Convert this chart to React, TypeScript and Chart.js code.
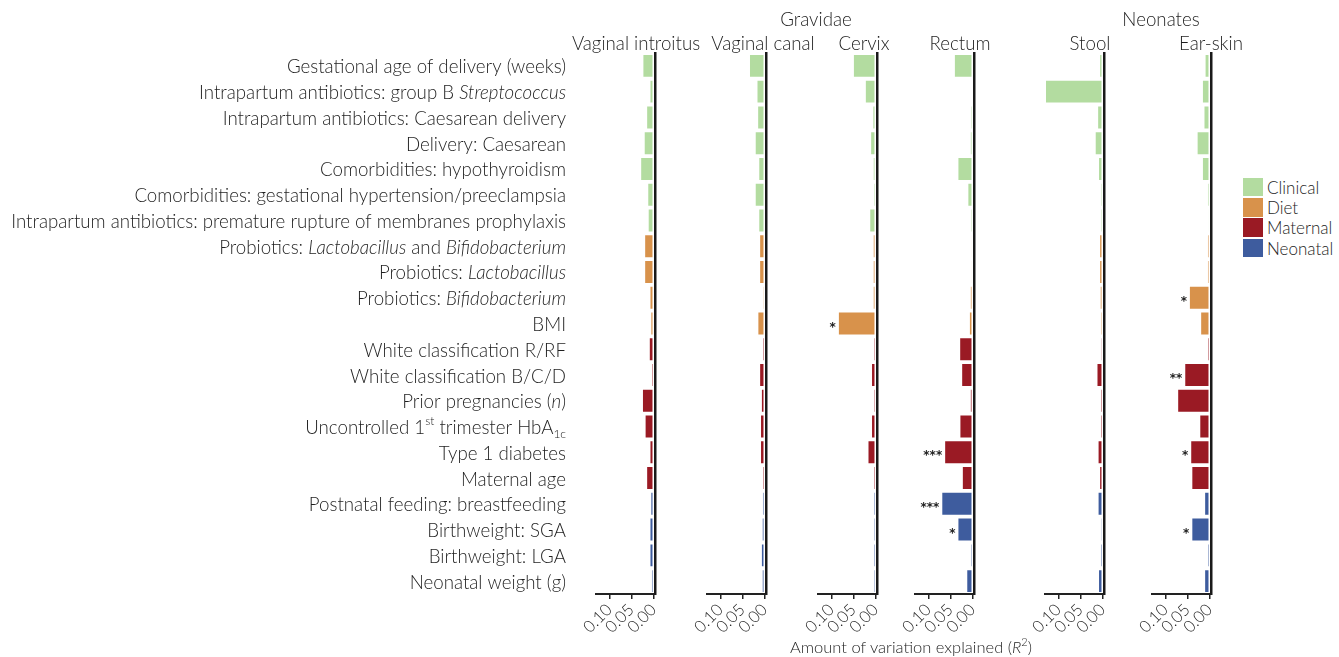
import React, { useEffect, useRef } from "react";
import { Chart, registerables } from "chart.js";

Chart.register(...registerables);

const FONT = "Lato, 'Open Sans', sans-serif";
const TEXT = "#1e1e1e";

// ---- data ----
const categories = [
  "Gestational age of delivery (weeks)",
  "Intrapartum antibiotics: group B _Streptococcus_",
  "Intrapartum antibiotics: Caesarean delivery",
  "Delivery: Caesarean",
  "Comorbidities: hypothyroidism",
  "Comorbidities: gestational hypertension/preeclampsia",
  "Intrapartum antibiotics: premature rupture of membranes prophylaxis",
  "Probiotics: _Lactobacillus_ and _Bifidobacterium_",
  "Probiotics: _Lactobacillus_",
  "Probiotics: _Bifidobacterium_",
  "BMI",
  "White classification R/RF",
  "White classification B/C/D",
  "Prior pregnancies (_n_)",
  "Uncontrolled 1^st^ trimester HbA~1c~",
  "Type 1 diabetes",
  "Maternal age",
  "Postnatal feeding: breastfeeding",
  "Birthweight: SGA",
  "Birthweight: LGA",
  "Neonatal weight (g)",
];

const categoryGroups = [
  "Clinical", "Clinical", "Clinical", "Clinical", "Clinical", "Clinical", "Clinical",
  "Diet", "Diet", "Diet", "Diet",
  "Maternal", "Maternal", "Maternal", "Maternal", "Maternal", "Maternal",
  "Neonatal", "Neonatal", "Neonatal", "Neonatal",
];

const groupNames = ["Clinical", "Diet", "Maternal", "Neonatal"];
const groupColors = ["#b3dca0", "#d8924b", "#9a1a24", "#3e5c9e"];

const xTickValues = [0, 0.05, 0.1];
const xMin = -0.0035;
const xMax = 0.13;

const vaginalIntroitus = [0.025, 0.009, 0.0165, 0.022, 0.030, 0.014, 0.013, 0.021, 0.021, 0.009, 0.007, 0.0105, 0.0045, 0.026, 0.020, 0.009, 0.0165, 0.007, 0.009, 0.009, 0.005];
const vaginalCanal = [0.035, 0.018, 0.0165, 0.022, 0.014, 0.022, 0.014, 0.012, 0.012, 0.003, 0.016, 0.0045, 0.012, 0.008, 0.010, 0.010, 0.0045, 0.005, 0.006, 0.008, 0.006];
const cervix = [0.051, 0.024, 0.007, 0.012, 0.006, 0.0045, 0.014, 0.006, 0.006, 0.006, 0.085, 0.004, 0.010, 0.004, 0.010, 0.018, 0.0045, 0.0045, 0.004, 0.0045, 0.004];
const rectum = [0.042, 0.0015, 0.004, 0.0055, 0.034, 0.0115, 0.004, 0.0023, 0.0023, 0.0055, 0.008, 0.030, 0.0255, 0.0055, 0.0295, 0.064, 0.024, 0.0705, 0.034, 0.004, 0.014];
const stool = [0.0075, 0.13, 0.012, 0.0175, 0.010, 0.004, 0.004, 0.0075, 0.0075, 0.006, 0.004, 0.003, 0.0135, 0.0045, 0.0045, 0.011, 0.0075, 0.011, 0.003, 0.0045, 0.010];
const earSkin = [0.011, 0.017, 0.0135, 0.029, 0.017, 0.005, 0.001, 0.005, 0.005, 0.0465, 0.021, 0.0045, 0.057, 0.073, 0.023, 0.0435, 0.041, 0.012, 0.041, 0.0045, 0.012];

const noSig: string[] = [];
const cervixSig: string[] = []; cervixSig[10] = "*";
const rectumSig: string[] = []; rectumSig[15] = "***"; rectumSig[17] = "***"; rectumSig[18] = "*";
const earSkinSig: string[] = []; earSkinSig[9] = "*"; earSkinSig[12] = "**"; earSkinSig[15] = "*"; earSkinSig[18] = "*";

const panelTitles = ["Vaginal introitus", "Vaginal canal", "Cervix", "Rectum", "Stool", "Ear-skin"];
const panelValues = [vaginalIntroitus, vaginalCanal, cervix, rectum, stool, earSkin];
const panelSig = [noSig, noSig, cervixSig, rectumSig, noSig, earSkinSig];

// ---- layout (not data) ----
const AREA_W = 59;
const AREA_TOP = 53;
const PAD_R = 10;
const X_AXIS_H = 63;
const H = 657;
const panelAreaLeft = [596, 707, 818, 915, 1045, 1152];
const panelTitleX = [636, 763, 864, 960, 1090, 1211];

type Seg = { text: string; style: "n" | "i" | "sup" | "sub" };
function parseRich(s: string): Seg[] {
  const parts = s.split(/(_[^_]+_|\^[^^]+\^|~[^~]+~)/).filter((p) => p.length);
  return parts.map((p) => {
    if (p.startsWith("_")) return { text: p.slice(1, -1), style: "i" };
    if (p.startsWith("^")) return { text: p.slice(1, -1), style: "sup" };
    if (p.startsWith("~")) return { text: p.slice(1, -1), style: "sub" };
    return { text: p, style: "n" };
  });
}
const plain = (s: string) => s.replace(/[_^~]/g, "");

const LABEL_SIZE = 18.7;
function segFont(st: Seg["style"]) {
  const size = st === "sup" || st === "sub" ? 12 : LABEL_SIZE;
  return `${st === "i" ? "italic " : ""}300 ${size}px ${FONT}`;
}

const labelPlugin = {
  id: "richLabels",
  afterDraw(chart: any) {
    const ctx = chart.ctx;
    const ys = chart.scales.y;
    const right = chart.chartArea.left - 30;
    ctx.save();
    ctx.fillStyle = TEXT;
    ctx.textBaseline = "middle";
    ctx.textAlign = "left";
    categories.forEach((lab, i) => {
      const y = ys.getPixelForValue(i) + 1.5;
      const segs = parseRich(lab);
      let total = 0;
      const widths = segs.map((sg) => {
        ctx.font = segFont(sg.style);
        const w = ctx.measureText(sg.text).width;
        total += w;
        return w;
      });
      let x = right - total;
      segs.forEach((sg, k) => {
        ctx.font = segFont(sg.style);
        const dy = sg.style === "sup" ? -7 : sg.style === "sub" ? 6 : 0;
        ctx.fillText(sg.text, x, y + dy);
        x += widths[k];
      });
    });
    ctx.restore();
  },
};

function makeSigPlugin(sig: string[]) {
  return {
    id: "sigStars",
    afterDatasetsDraw(chart: any) {
      const ctx = chart.ctx;
      ctx.save();
      ctx.fillStyle = "#222";
      ctx.font = `bold 12px 'DejaVu Sans', sans-serif`;
      ctx.textAlign = "right";
      ctx.textBaseline = "alphabetic";
      chart.data.datasets.forEach((_: any, di: number) => {
        const meta = chart.getDatasetMeta(di);
        meta.data.forEach((el: any, i: number) => {
          const v = chart.data.datasets[di].data[i];
          if (v == null || !sig[i]) return;
          ctx.fillText(sig[i], el.x - 2, el.y + 7);
        });
      });
      ctx.restore();
    },
  };
}

function Panel({ index }: { index: number }) {
  const ref = useRef<HTMLCanvasElement>(null);
  const showLabels = index === 0;
  const areaLeft = panelAreaLeft[index];
  const padLeft = showLabels ? areaLeft : 20;
  const canvasLeft = areaLeft - padLeft;
  const width = padLeft + AREA_W + PAD_R;

  useEffect(() => {
    const values = panelValues[index];
    const sig = panelSig[index];
    const chart = new Chart(ref.current as HTMLCanvasElement, {
      type: "bar",
      data: {
        labels: categories.map(plain),
        datasets: groupNames.map((g, gi) => ({
          label: g,
          data: values.map((v, i) => (categoryGroups[i] === g ? v : null)),
          backgroundColor: groupColors[gi],
          borderColor: "rgba(255,255,255,0.35)",
          borderWidth: 1,
          grouped: false,
          categoryPercentage: 1,
          barPercentage: 0.93,
        })) as any,
      },
      options: {
        indexAxis: "y",
        responsive: false,
        animation: false,
        layout: { padding: { left: padLeft, right: PAD_R, top: AREA_TOP, bottom: 0 } },
        plugins: { legend: { display: false }, tooltip: { enabled: false }, title: { display: false } },
        scales: {
          x: {
            type: "linear",
            reverse: true,
            min: xMin,
            max: xMax,
            afterBuildTicks: (s: any) => {
              s.ticks = xTickValues.map((v) => ({ value: v }));
            },
            afterFit: (s: any) => {
              s.height = X_AXIS_H;
              s.paddingLeft = 0;
              s.paddingRight = 0;
            },
            ticks: {
              autoSkip: false,
              minRotation: 45,
              maxRotation: 45,
              padding: 1,
              color: TEXT,
              font: { family: FONT, size: 16.5, weight: "300" as any },
              callback: (v: any) => Number(v).toFixed(2),
            },
            grid: { display: true, drawOnChartArea: false, drawTicks: true, tickLength: 5, color: "#222", lineWidth: 1.5 },
            border: { display: true, color: "#222", width: 2 },
          },
          y: {
            type: "category",
            position: "right",
            offset: true,
            afterFit: (s: any) => {
              s.width = 0;
              s.paddingTop = 0;
              s.paddingBottom = 0;
            },
            ticks: { display: false },
            grid: { display: false },
            border: { display: true, color: "#1a1a1a", width: 2.5 },
          },
        } as any,
      },
      plugins: showLabels ? [labelPlugin, makeSigPlugin(sig)] : [makeSigPlugin(sig)],
    } as any);
    return () => chart.destroy();
  }, [index]);

  return (
    <canvas
      ref={ref}
      width={width}
      height={H}
      style={{ position: "absolute", left: canvasLeft, top: 0, width, height: H }}
    />
  );
}

const textStyle = (x: number, y: number, size: number): React.CSSProperties => ({
  position: "absolute",
  left: x,
  top: y,
  transform: "translate(-50%, -50%)",
  whiteSpace: "nowrap",
  fontFamily: FONT,
  fontWeight: 300,
  fontSize: size,
  lineHeight: 1,
  color: TEXT,
});

export default function App() {
  return (
    <div style={{ position: "absolute", left: 0, top: 0, width: 1339, height: H, background: "#fff", overflow: "hidden" }}>
      {panelTitles.map((_, i) => (
        <Panel key={i} index={i} />
      ))}
      {panelTitles.map((t, i) => (
        <div key={t} style={textStyle(panelTitleX[i], 43, 18.7)}>{t}</div>
      ))}
      <div style={textStyle(816, 19, 18.7)}>Gravidae</div>
      <div style={textStyle(1161, 19, 18.7)}>Neonates</div>
      <div style={textStyle(911, 647, 16.5)}>
        Amount of variation explained (<i>R</i><sup style={{ fontSize: 11, lineHeight: 0 }}>2</sup>)
      </div>
      <div style={{ position: "absolute", left: 1243, top: 177 }}>
        {groupNames.map((g, i) => (
          <div key={g} style={{ display: "flex", alignItems: "center", height: 20.3 }}>
            <div style={{ width: 20, height: 18.5, background: groupColors[i] }} />
            <span style={{ marginLeft: 4, fontFamily: FONT, fontWeight: 300, fontSize: 17, color: TEXT, whiteSpace: "nowrap" }}>{g}</span>
          </div>
        ))}
      </div>
    </div>
  );
}
